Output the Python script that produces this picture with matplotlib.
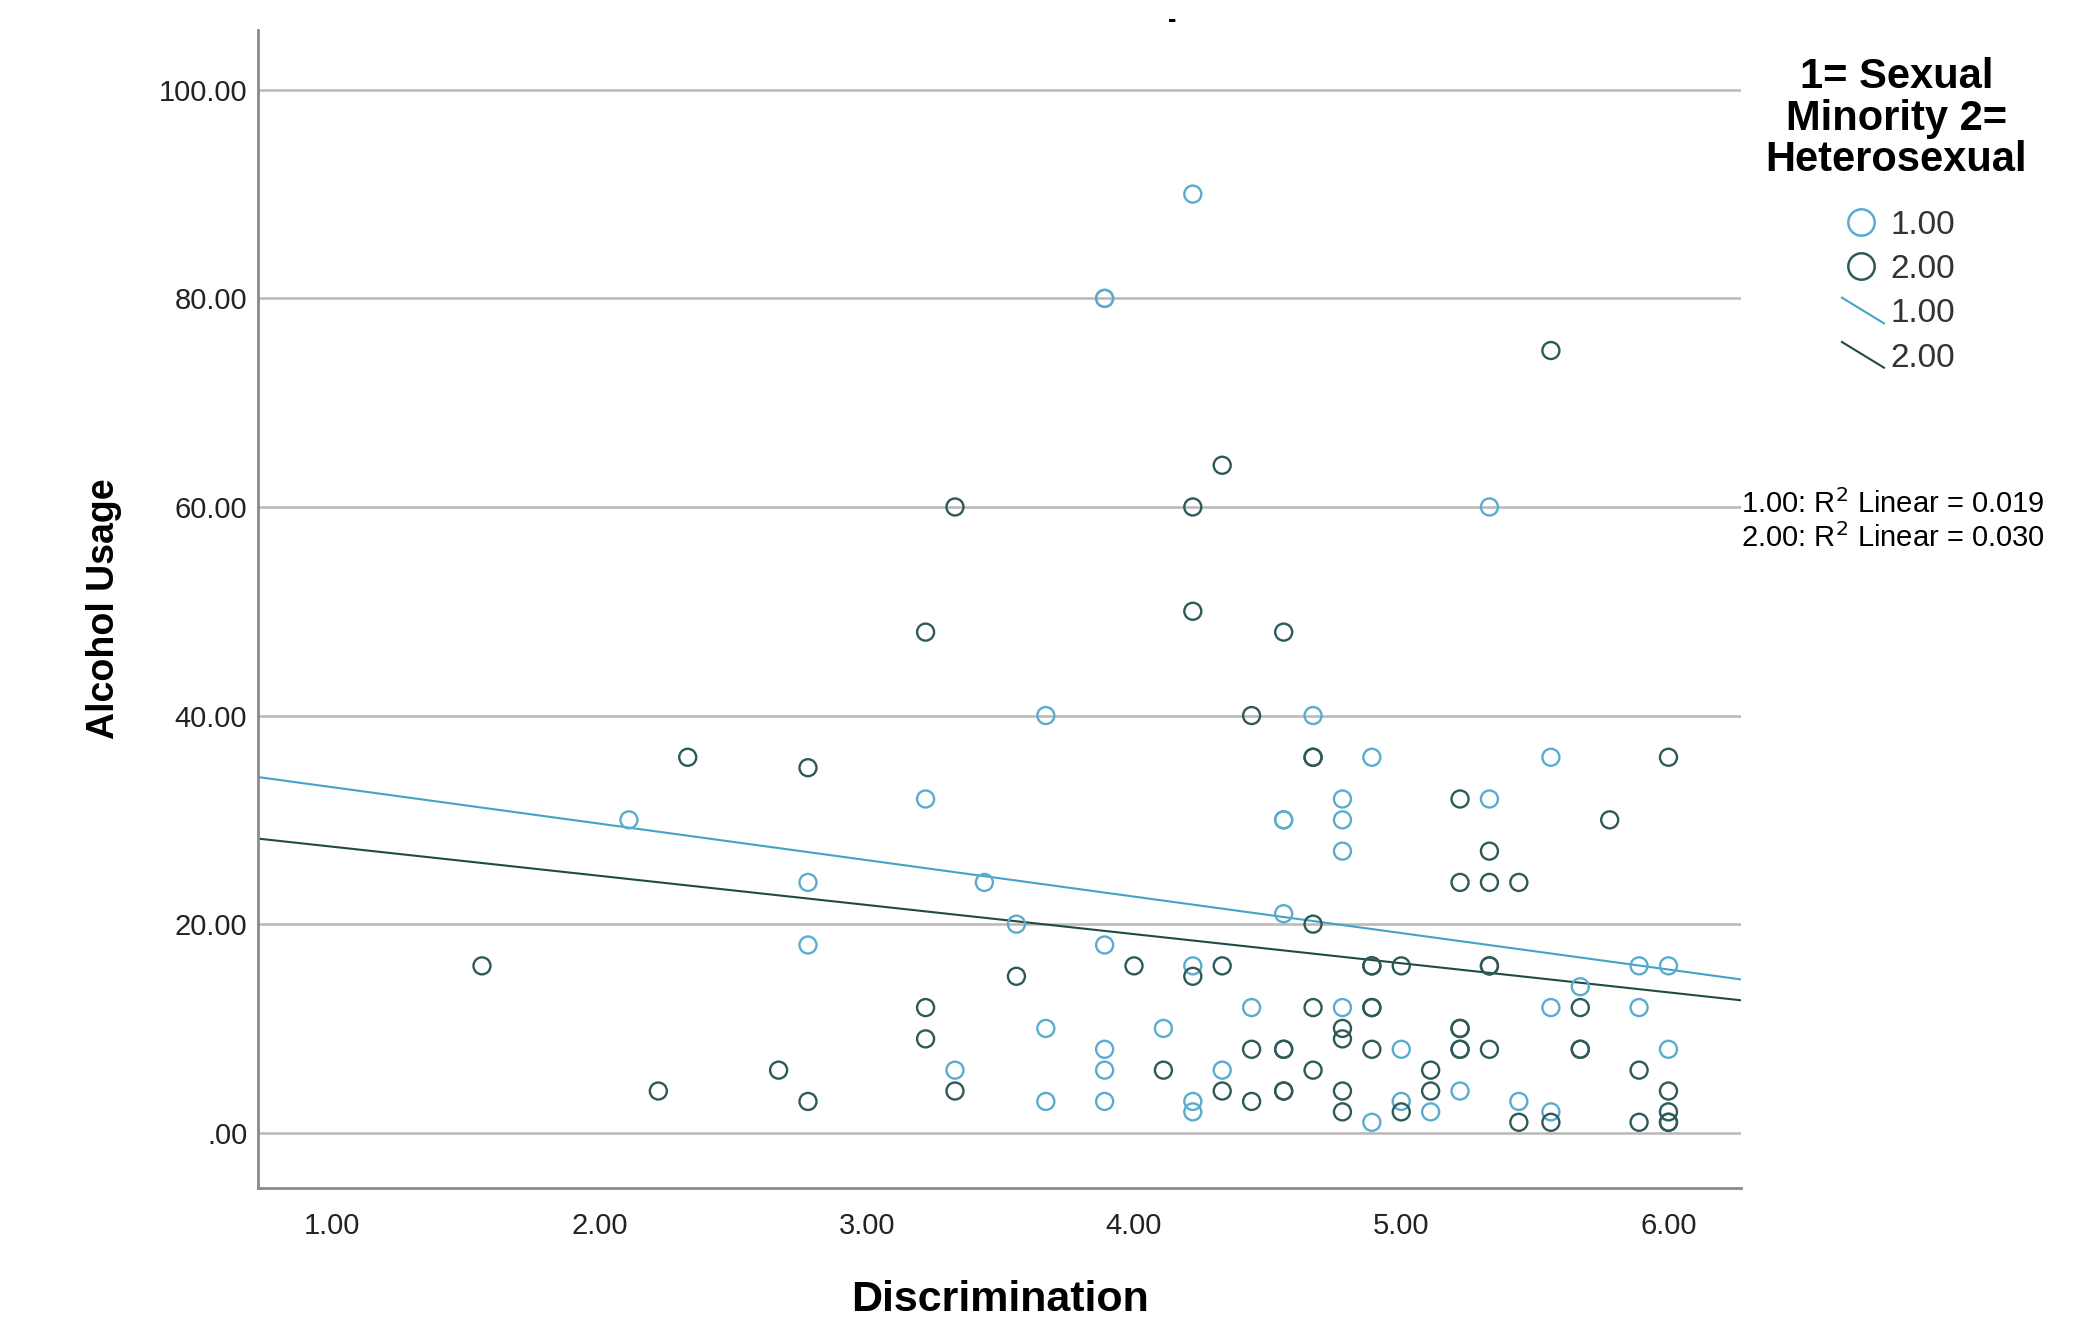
import matplotlib
matplotlib.use('Agg')
import matplotlib.pyplot as plt
from matplotlib.lines import Line2D
from matplotlib.legend_handler import HandlerBase

plt.rcParams['font.family'] = ['Liberation Sans', 'DejaVu Sans']

# group 1 = sexual minority, group 2 = heterosexual
minority_x = [2.11, 2.78, 2.78, 3.22, 3.33, 3.44, 3.56, 3.67, 3.67, 3.67,
              3.89, 3.89, 3.89, 3.89, 3.89, 3.89, 4.11, 4.22, 4.22, 4.22,
              4.22, 4.33, 4.44, 4.56, 4.56, 4.56, 4.67, 4.78, 4.78, 4.78,
              4.78, 4.89, 4.89, 5.00, 5.00, 5.11, 5.22, 5.33, 5.33, 5.44,
              5.56, 5.56, 5.56, 5.67, 5.89, 5.89, 6.00, 6.00]
minority_y = [30, 24, 18, 32, 6, 24, 20, 40, 10, 3,
              80, 80, 18, 8, 6, 3, 10, 90, 16, 3,
              2, 6, 12, 30, 30, 21, 40, 32, 30, 27,
              12, 36, 1, 8, 3, 2, 4, 60, 32, 3,
              36, 12, 2, 14, 16, 12, 16, 8]

hetero_x = [1.56, 2.22, 2.33, 2.67, 2.78, 2.78, 3.22, 3.22, 3.22, 3.33,
            3.33, 3.56, 4.00, 4.11, 4.22, 4.22, 4.22, 4.33, 4.33, 4.33,
            4.44, 4.44, 4.44, 4.56, 4.56, 4.56, 4.56, 4.56, 4.67, 4.67,
            4.67, 4.67, 4.67, 4.78, 4.78, 4.78, 4.78, 4.89, 4.89, 4.89,
            4.89, 4.89, 5.00, 5.00, 5.11, 5.11, 5.22, 5.22, 5.22, 5.22,
            5.22, 5.22, 5.33, 5.33, 5.33, 5.33, 5.33, 5.44, 5.44, 5.56,
            5.56, 5.67, 5.67, 5.67, 5.78, 5.89, 5.89, 6.00, 6.00, 6.00,
            6.00, 6.00]
hetero_y = [16, 4, 36, 6, 35, 3, 48, 12, 9, 60,
            4, 15, 16, 6, 60, 50, 15, 64, 16, 4,
            40, 8, 3, 48, 8, 8, 4, 4, 36, 36,
            20, 12, 6, 10, 9, 4, 2, 16, 16, 12,
            12, 8, 16, 2, 6, 4, 32, 24, 10, 10,
            8, 8, 27, 24, 16, 16, 8, 24, 1, 75,
            1, 12, 8, 8, 30, 6, 1, 36, 4, 2,
            1, 1]

# fit lines read at the axis edges
fit_x = [0.723, 6.271]
fit_minority = [34.1, 14.7]
fit_hetero = [28.2, 12.7]

x_ticks = [1, 2, 3, 4, 5, 6]
x_labels = ['1.00', '2.00', '3.00', '4.00', '5.00', '6.00']
y_ticks = [0, 20, 40, 60, 80, 100]
y_labels = ['.00', '20.00', '40.00', '60.00', '80.00', '100.00']

light = '#5aaccf'
dark = '#2d5a58'
light_line = '#45a3c8'
dark_line = '#1e4a48'


class DiagonalLine(HandlerBase):
    def create_artists(self, legend, orig_handle, xdescent, ydescent,
                       width, height, fontsize, trans):
        ln = Line2D([0.1 * width, width], [height * 1.05, -0.05 * height],
                    color=orig_handle.get_color(), lw=orig_handle.get_linewidth())
        ln.set_transform(trans)
        return [ln]


fig = plt.figure(figsize=(21, 13.2), dpi=100)
ax = fig.add_axes([0.123, 0.100, 0.706, 0.877])

for y in y_ticks:
    ax.axhline(y, color='#b8b8b8', lw=1.8, zorder=1)

ax.scatter(minority_x, minority_y, s=150, facecolors='none',
           edgecolors=light, linewidths=1.7, zorder=3)
ax.scatter(hetero_x, hetero_y, s=150, facecolors='none',
           edgecolors=dark, linewidths=1.7, zorder=3)

ax.plot(fit_x, fit_minority, color=light_line, lw=1.5, zorder=2)
ax.plot(fit_x, fit_hetero, color=dark_line, lw=1.5, zorder=2)

ax.set_xlim(0.723, 6.271)
ax.set_ylim(-5.3, 105.7)
ax.set_xticks(x_ticks)
ax.set_xticklabels(x_labels)
ax.set_yticks(y_ticks)
ax.set_yticklabels(y_labels)
ax.tick_params(length=0, labelsize=21, colors='#222222')
ax.tick_params(axis='x', pad=17)
ax.tick_params(axis='y', pad=8)

for side in ['top', 'right']:
    ax.spines[side].set_visible(False)
for side in ['left', 'bottom']:
    ax.spines[side].set_color('#8a8a8a')
    ax.spines[side].set_linewidth(2)

ax.set_xlabel('Discrimination', fontsize=31, fontweight='bold', labelpad=29)
ax.set_ylabel('Alcohol Usage', fontsize=27, fontweight='bold', labelpad=26)

fig.text(0.558, 0.985, '-', fontsize=18, fontweight='bold', ha='center', va='center')

# legend title drawn separately so the gap under it can match
fig.text(0.903, 0.910, '1= Sexual\nMinority 2=\nHeterosexual', fontsize=30,
         fontweight='bold', ha='center', va='center', multialignment='center',
         linespacing=1.05)

handles = [
    Line2D([], [], ls='none', marker='o', markersize=19, markerfacecolor='none',
           markeredgecolor=light, markeredgewidth=1.8),
    Line2D([], [], ls='none', marker='o', markersize=19, markerfacecolor='none',
           markeredgecolor=dark, markeredgewidth=1.8),
    Line2D([], [], color=light_line, lw=1.5),
    Line2D([], [], color=dark_line, lw=1.5),
]
labels = ['1.00', '2.00', '1.00', '2.00']
leg = fig.legend(handles, labels, loc='upper center', bbox_to_anchor=(0.903, 0.864),
                 frameon=False, fontsize=24, labelspacing=0.4, handlelength=1.4,
                 handletextpad=0.2,
                 handler_map={handles[2]: DiagonalLine(), handles[3]: DiagonalLine()})
for t in leg.get_texts():
    t.set_color('#333333')

ax.text(1.0, 60.3, '1.00: R$^2$ Linear = 0.019', transform=ax.get_yaxis_transform(),
        fontsize=21, va='center', ha='left')
ax.text(1.0, 57.0, '2.00: R$^2$ Linear = 0.030', transform=ax.get_yaxis_transform(),
        fontsize=21, va='center', ha='left')

fig.savefig('out.png', dpi=100)
